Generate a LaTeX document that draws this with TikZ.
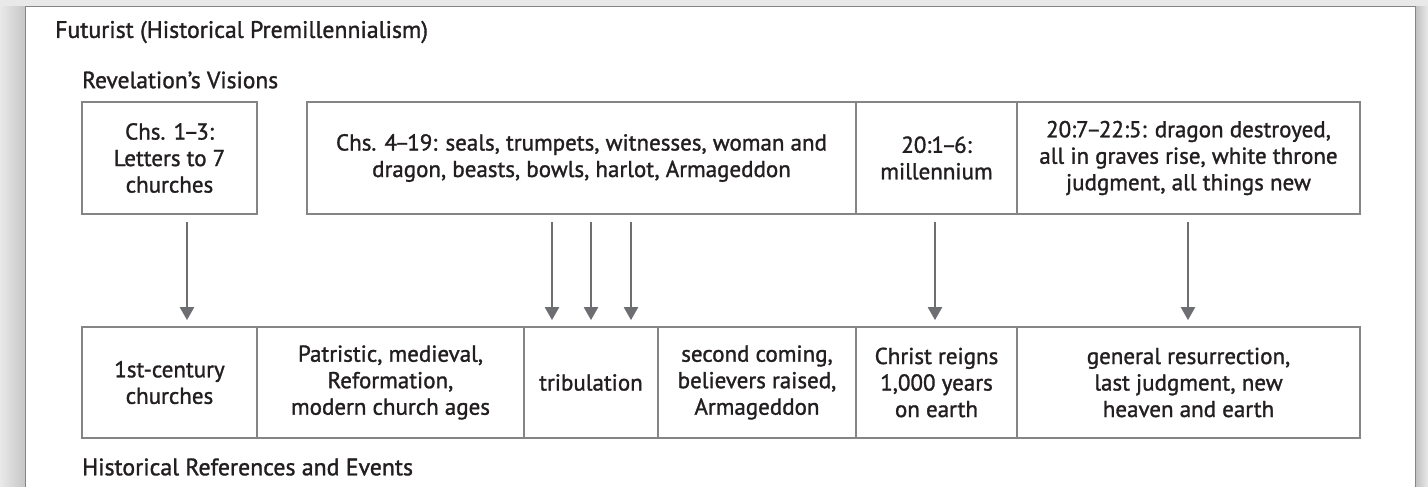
\documentclass[tikz,border=0pt]{standalone}
\usepackage{fontspec}
\setmainfont[FakeBold=1.3]{PT Sans}
\usetikzlibrary{arrows.meta}
\definecolor{boxline}{HTML}{858587}
\definecolor{arr}{HTML}{6D6E71}
\definecolor{txt}{HTML}{231F20}
\definecolor{outer}{HTML}{E9E9EA}
\newcommand{\ndash}{\kern-2.5pt–\kern-2.5pt}
\tikzset{
  vbox/.style={draw=boxline, line width=1.7pt, inner sep=0pt, align=center,
    font=\fontsize{23}{26.5}\selectfont, text=txt},
  flow/.style={draw=arr, line width=2.2pt, -{Triangle[width=14pt,length=13pt]},
    shorten <=7pt, shorten >=6pt},
  head/.style={anchor=west, inner sep=0pt, text=txt},
}
\begin{document}
\begin{tikzpicture}[x=1pt,y=-1pt]
\useasboundingbox (0,0) rectangle (1428,487);
\fill[outer] (0,0) rectangle (1428,487);
\shade[left color=outer, right color=gray!45] (0,7) rectangle (25,487);
\shade[left color=gray!50, right color=outer] (1415,7) rectangle (1428,487);
\fill[white] (25,7) rectangle (1415,490);
\draw[boxline, line width=1pt] (25,490) -- (25,7) -- (1415,7) -- (1415,490);

\node[head, font=\fontsize{23.8}{28}\selectfont] (title) at (55,32) {Futurist (Historical Premillennialism)};
\node[head, font=\fontsize{23.5}{28}\selectfont] (rv) at (82,80) {Revelation’s Visions};
\node[head, font=\fontsize{23.8}{28}\selectfont] (hr) at (82,467) {Historical References and Events};

% top row
\node[vbox, minimum width=175pt, minimum height=112pt] (t1) at (169.5,158) {Chs. 1\ndash3:\\Letters to 7\\churches};
\node[vbox, minimum width=549pt, minimum height=112pt] (t2) at (581.5,158) {Chs. 4\ndash19: seals, trumpets, witnesses, woman and\\dragon, beasts, bowls, harlot, Armageddon};
\node[vbox, minimum width=161pt, minimum height=112pt] (t3) at (936.5,158) {20:1\ndash6:\\millennium};
\node[vbox, minimum width=343pt, minimum height=112pt] (t4) at (1188.5,158) {20:7\ndash22:5: dragon destroyed,\\all in graves rise, white throne\\judgment, all things new};

% bottom row
\node[vbox, minimum width=175pt, minimum height=111pt] (b1) at (169.5,382.5) {1st-century\\churches};
\node[vbox, minimum width=267pt, minimum height=111pt] (b2) at (390.5,382.5) {Patristic, medieval,\\Reformation,\\modern church ages};
\node[vbox, minimum width=134pt, minimum height=111pt] (b3) at (591,382.5) {tribulation};
\node[vbox, minimum width=198pt, minimum height=111pt] (b4) at (757,382.5) {second coming,\\believers raised,\\Armageddon};
\node[vbox, minimum width=161pt, minimum height=111pt] (b5) at (936.5,382.5) {Christ reigns\\1,000 years\\on earth};
\node[vbox, minimum width=343pt, minimum height=111pt] (b6) at (1188.5,382.5) {general resurrection,\\last judgment, new\\heaven and earth};

% arrows
\draw[flow] (t1.south -| 187,0) -- (b1.north -| 187,0);
\draw[flow] (t2.south -| 552,0) -- (b3.north -| 552,0);
\draw[flow] (t2.south -| 591,0) -- (b3.north -| 591,0);
\draw[flow] (t2.south -| 631,0) -- (b3.north -| 631,0);
\draw[flow] (t3.south -| 935,0) -- (b5.north -| 935,0);
\draw[flow] (t4.south -| 1188,0) -- (b6.north -| 1188,0);
\end{tikzpicture}
\end{document}
